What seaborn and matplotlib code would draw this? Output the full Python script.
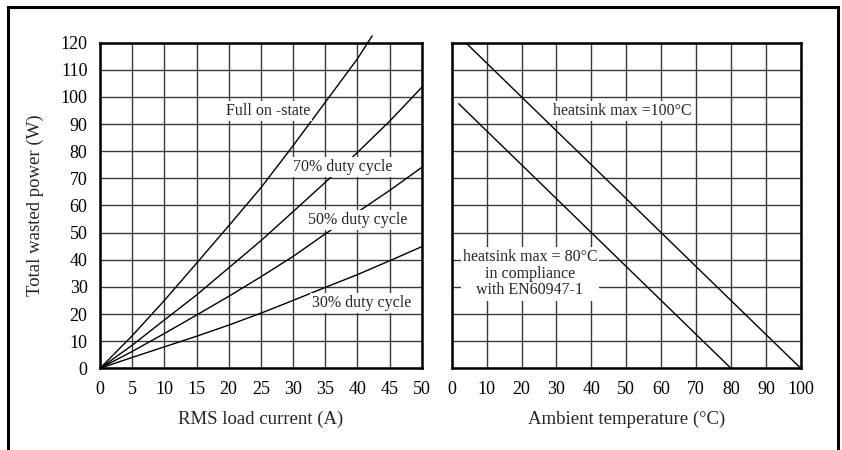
"""
plot.py - wasted power vs load current / ambient temperature
"""

import matplotlib

matplotlib.use("Agg")

import matplotlib.pyplot as plt
from matplotlib.patches import Rectangle
import pandas as pd
import seaborn as sns


# left panel: power vs RMS current
current_a = [0, 5, 10, 15, 20, 25, 30, 35, 40, 45, 50]
full_on_current = [0, 5, 10, 15, 20, 25, 30, 35, 40, 42.3]
full_on_power = [0, 12, 25, 38.7, 52.5, 66.5, 82, 98, 114, 122.5]
duty70_power = [0, 8.5, 17.8, 27, 37, 47, 57.7, 68.5, 79.5, 91, 103.5]
duty50_power = [0, 6.2, 12.8, 19.6, 26.5, 33.7, 41.2, 49.5, 57.5, 65.5, 74]
duty30_power = [0, 4, 7.9, 11.8, 15.9, 20.3, 25, 29.8, 34.5, 39.6, 44.8]

# right panel: power vs ambient temperature
hs100_temp = [4, 100]
hs100_power = [120, 0]
hs80_temp = [2, 80]
hs80_power = [97.5, 0]

current_ticks = [0, 5, 10, 15, 20, 25, 30, 35, 40, 45, 50]
temp_ticks = [0, 10, 20, 30, 40, 50, 60, 70, 80, 90, 100]
power_ticks = [0, 10, 20, 30, 40, 50, 60, 70, 80, 90, 100, 110, 120]


def main():
    sns.set_style("white")
    plt.rcParams["font.family"] = ["Liberation Serif", "DejaVu Serif"]

    fig = plt.figure(figsize=(8.42, 4.5), dpi=100)
    ax1 = fig.add_axes([0.1188, 0.1816, 0.382, 0.7236])
    ax2 = fig.add_axes([0.5365, 0.1816, 0.4145, 0.7236])

    left_df = pd.DataFrame({
        "current": current_a,
        "d70": duty70_power,
        "d50": duty50_power,
        "d30": duty30_power,
    })
    full_df = pd.DataFrame({"current": full_on_current, "power": full_on_power})

    sns.lineplot(data=full_df, x="current", y="power", ax=ax1, color="black", lw=1.0, clip_on=False)
    for col in ["d70", "d50", "d30"]:
        sns.lineplot(data=left_df, x="current", y=col, ax=ax1, color="black", lw=1.0)

    sns.lineplot(x=hs100_temp, y=hs100_power, ax=ax2, color="black", lw=1.0)
    sns.lineplot(x=hs80_temp, y=hs80_power, ax=ax2, color="black", lw=1.0)

    text_kw = dict(ha="center", va="center", fontsize=11.5,
                   bbox=dict(facecolor="white", edgecolor="none", pad=1.5), zorder=5)
    ax1.text(26.1, 94.9, "Full on -state", **text_kw)
    ax1.text(37.7, 74.3, "70% duty cycle", **text_kw)
    ax1.text(40.1, 54.7, "50% duty cycle", **text_kw)
    ax1.text(40.7, 24.2, "30% duty cycle", **text_kw)
    ax2.text(48.9, 94.9, "heatsink max =100°C", **text_kw)
    ax2.text(22.4, 34.8, "heatsink max = 80°C\nin compliance\nwith EN60947-1",
             linespacing=1.05, **text_kw)

    for ax, xticks, xmax in [(ax1, current_ticks, 50), (ax2, temp_ticks, 100)]:
        ax.set_xlim(0, xmax)
        ax.set_ylim(0, 120)
        ax.set_xticks(xticks)
        ax.set_yticks(power_ticks)
        ax.grid(True, color="#3a3a3a", lw=1.0)
        ax.set_axisbelow(True)
        for sp in ax.spines.values():
            sp.set_color("black")
            sp.set_linewidth(1.8)
        ax.tick_params(length=0, labelsize=13, colors="black", pad=9)

    ax1.set_xlabel("RMS load current (A)", fontsize=13.5, labelpad=9)
    ax1.set_ylabel("Total wasted power (W)", fontsize=13.5, labelpad=12)
    ax2.set_xlabel("Ambient temperature (°C)", fontsize=13.5, labelpad=9)
    ax2.set_ylabel("")
    ax2.tick_params(axis="y", labelleft=False)

    # outer frame, open at the bottom
    fig.patches.append(Rectangle((8 / 842, -0.05), 830 / 842, 1.0 - 7 / 450 + 0.05,
                                 transform=fig.transFigure, fill=False,
                                 edgecolor="black", lw=2.2))

    fig.savefig("out.png", dpi=100)
    plt.close(fig)


if __name__ == "__main__":
    main()
